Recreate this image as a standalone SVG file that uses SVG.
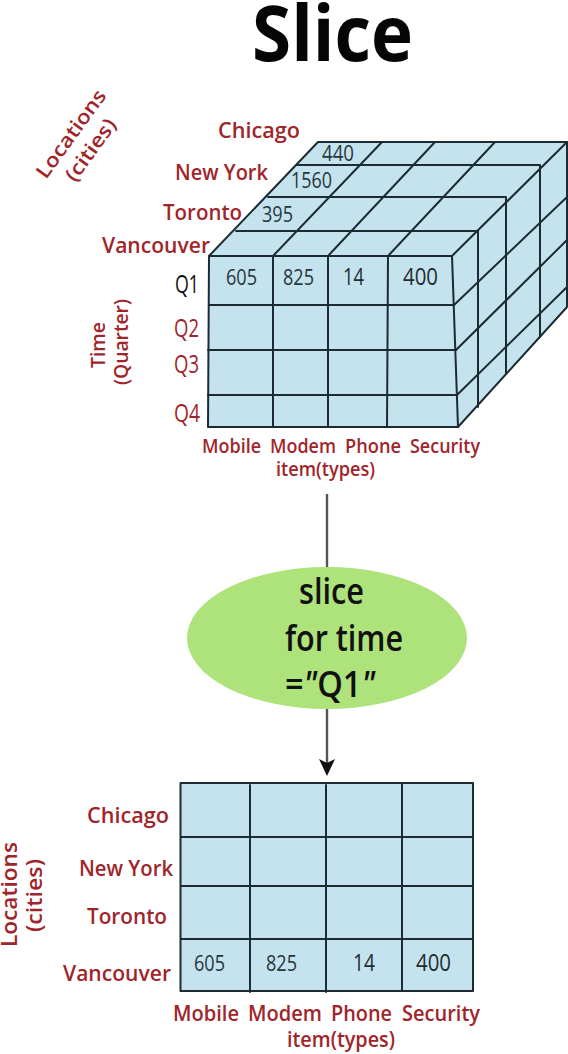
<svg xmlns="http://www.w3.org/2000/svg" width="568" height="1054" viewBox="0 0 568 1054">
<style>
text{font-family:"Open Sans","Noto Sans","DejaVu Sans",sans-serif}
.r{fill:#a0252b;font-weight:600;font-size:22px}
.rs{fill:#a0252b;font-weight:600;font-size:20px}
.q{font-size:25px;font-weight:500;fill:#a0252b}
.n{fill:#26363c;font-size:21px}
.nl{fill:#1f2c30;font-size:23px}
.b{fill:#111;font-weight:600;font-size:36px}
.g{stroke:#1c2b31;stroke-width:2;fill:none;stroke-linecap:round;stroke-linejoin:round}
.f{fill:#c5e3ee;stroke:none}
.a{stroke:#555;stroke-width:2.4;fill:none}
</style>
<rect width="568" height="1054" fill="#fff"/>
<text id="title" x="252" y="61" font-size="77" font-weight="700" fill="#050505" textLength="161" lengthAdjust="spacingAndGlyphs">Slice</text>

<g id="connectors">
<path class="a" d="M327 494V568"/>
<path class="a" d="M327 708V766"/>
<path d="M319 759L327 763L335 759L327 776Z" fill="#111"/>
</g>

<g id="cube">
<polygon class="f" points="209,256 318,142 567,142 568,307 458,427 208,427"/>
<g class="g">
<path d="M209 256L318 142H567V307L458 427H208Z"/>
<path d="M209 256H452L458 427"/>
<path d="M209 305H454M208 350H456M208 395H457"/>
<path d="M273 256V427M328 256V427M388 256L387 427"/>
<path d="M236 231H478V407M268 197H506V373M297 165H540V337"/>
<path d="M273 256L382 142M328 256L435 142M388 256L495 142"/>
<path d="M452 256L567 142M454 305L567 197M456 350L567 240M457 395L567 287"/>
</g>
<text class="n" x="226" y="285" textLength="31" lengthAdjust="spacingAndGlyphs">605</text>
<text class="n" x="283" y="285" textLength="31" lengthAdjust="spacingAndGlyphs">825</text>
<text class="nl" x="343" y="285" textLength="21" lengthAdjust="spacingAndGlyphs">14</text>
<text class="nl" x="403" y="285" textLength="35" lengthAdjust="spacingAndGlyphs">400</text>
<text class="n" x="322" y="161" textLength="32" lengthAdjust="spacingAndGlyphs">440</text>
<text class="n" x="291" y="188" textLength="41" lengthAdjust="spacingAndGlyphs">1560</text>
<text class="n" x="262" y="222" textLength="31" lengthAdjust="spacingAndGlyphs">395</text>
</g>

<g id="cube-locations">
<text class="r" x="218" y="138" textLength="82" lengthAdjust="spacingAndGlyphs">Chicago</text>
<text class="r" x="175" y="180" textLength="93" lengthAdjust="spacingAndGlyphs">New York</text>
<text class="r" x="163" y="220" textLength="79" lengthAdjust="spacingAndGlyphs">Toronto</text>
<text class="r" x="102" y="253" textLength="108" lengthAdjust="spacingAndGlyphs">Vancouver</text>
<text class="rs" transform="translate(46,180) rotate(-54)" textLength="104" lengthAdjust="spacingAndGlyphs">Locations</text>
<text class="rs" transform="translate(75,183) rotate(-54)" textLength="72" lengthAdjust="spacingAndGlyphs">(cities)</text>
</g>

<g id="cube-time">
<text x="175" y="293" font-size="25" font-weight="500" fill="#111" textLength="24" lengthAdjust="spacingAndGlyphs">Q1</text>
<text class="q" x="174" y="337" textLength="25" lengthAdjust="spacingAndGlyphs">Q2</text>
<text class="q" x="174" y="373" textLength="25" lengthAdjust="spacingAndGlyphs">Q3</text>
<text class="q" x="174" y="422" textLength="26" lengthAdjust="spacingAndGlyphs">Q4</text>
<text class="rs" style="font-size:19px" transform="translate(105,368) rotate(-90)" textLength="46" lengthAdjust="spacingAndGlyphs">Time</text>
<text class="rs" style="font-size:19px" transform="translate(128,385) rotate(-90)" textLength="86" lengthAdjust="spacingAndGlyphs">(Quarter)</text>
</g>

<g id="cube-items">
<text class="rs" x="202" y="453" textLength="59" lengthAdjust="spacingAndGlyphs">Mobile</text>
<text class="rs" x="270" y="453" textLength="66" lengthAdjust="spacingAndGlyphs">Modem</text>
<text class="rs" x="345" y="453" textLength="56" lengthAdjust="spacingAndGlyphs">Phone</text>
<text class="rs" x="410" y="453" textLength="70" lengthAdjust="spacingAndGlyphs">Security</text>
<text class="rs" x="276" y="476" textLength="99" lengthAdjust="spacingAndGlyphs">item(types)</text>
</g>

<g id="slice-ellipse">
<ellipse cx="327" cy="638" rx="140" ry="71" fill="#aee27a"/>
<text class="b" x="299" y="604" textLength="65" lengthAdjust="spacingAndGlyphs">slice</text>
<text class="b" x="285" y="651" textLength="118" lengthAdjust="spacingAndGlyphs">for time</text>
<text class="b" x="285" y="697" textLength="90" lengthAdjust="spacingAndGlyphs">=<tspan font-style="italic">"</tspan>Q1<tspan font-style="italic">"</tspan></text>
</g>

<g id="result-table">
<rect x="180.500" y="783" width="292.500" height="208" class="f"/>
<g class="g">
<rect x="180.500" y="783" width="292.500" height="208"/>
<path d="M250 785V992M326 785V992M402 783V991M181 837H473M181 886H473M181 939H473"/>
</g>
<text class="n" x="194" y="971" textLength="31" lengthAdjust="spacingAndGlyphs">605</text>
<text class="n" x="266" y="971" textLength="31" lengthAdjust="spacingAndGlyphs">825</text>
<text class="nl" x="353" y="971" textLength="22" lengthAdjust="spacingAndGlyphs">14</text>
<text class="nl" x="416" y="971" textLength="35" lengthAdjust="spacingAndGlyphs">400</text>
</g>

<g id="result-locations">
<text class="r" x="87" y="823" textLength="82" lengthAdjust="spacingAndGlyphs">Chicago</text>
<text class="r" x="79" y="876" textLength="94" lengthAdjust="spacingAndGlyphs">New York</text>
<text class="r" x="87" y="924" textLength="80" lengthAdjust="spacingAndGlyphs">Toronto</text>
<text class="r" x="63" y="981" textLength="108" lengthAdjust="spacingAndGlyphs">Vancouver</text>
<text class="r" transform="translate(17,947) rotate(-90)" textLength="105" lengthAdjust="spacingAndGlyphs">Locations</text>
<text class="r" transform="translate(42,932) rotate(-90)" textLength="73" lengthAdjust="spacingAndGlyphs">(cities)</text>
</g>

<g id="result-items">
<text class="r" x="173" y="1021" textLength="66" lengthAdjust="spacingAndGlyphs">Mobile</text>
<text class="r" x="248" y="1021" textLength="74" lengthAdjust="spacingAndGlyphs">Modem</text>
<text class="r" x="331" y="1021" textLength="61" lengthAdjust="spacingAndGlyphs">Phone</text>
<text class="r" x="402" y="1021" textLength="78" lengthAdjust="spacingAndGlyphs">Security</text>
<text class="r" x="287" y="1047" textLength="108" lengthAdjust="spacingAndGlyphs">item(types)</text>
</g>
</svg>
